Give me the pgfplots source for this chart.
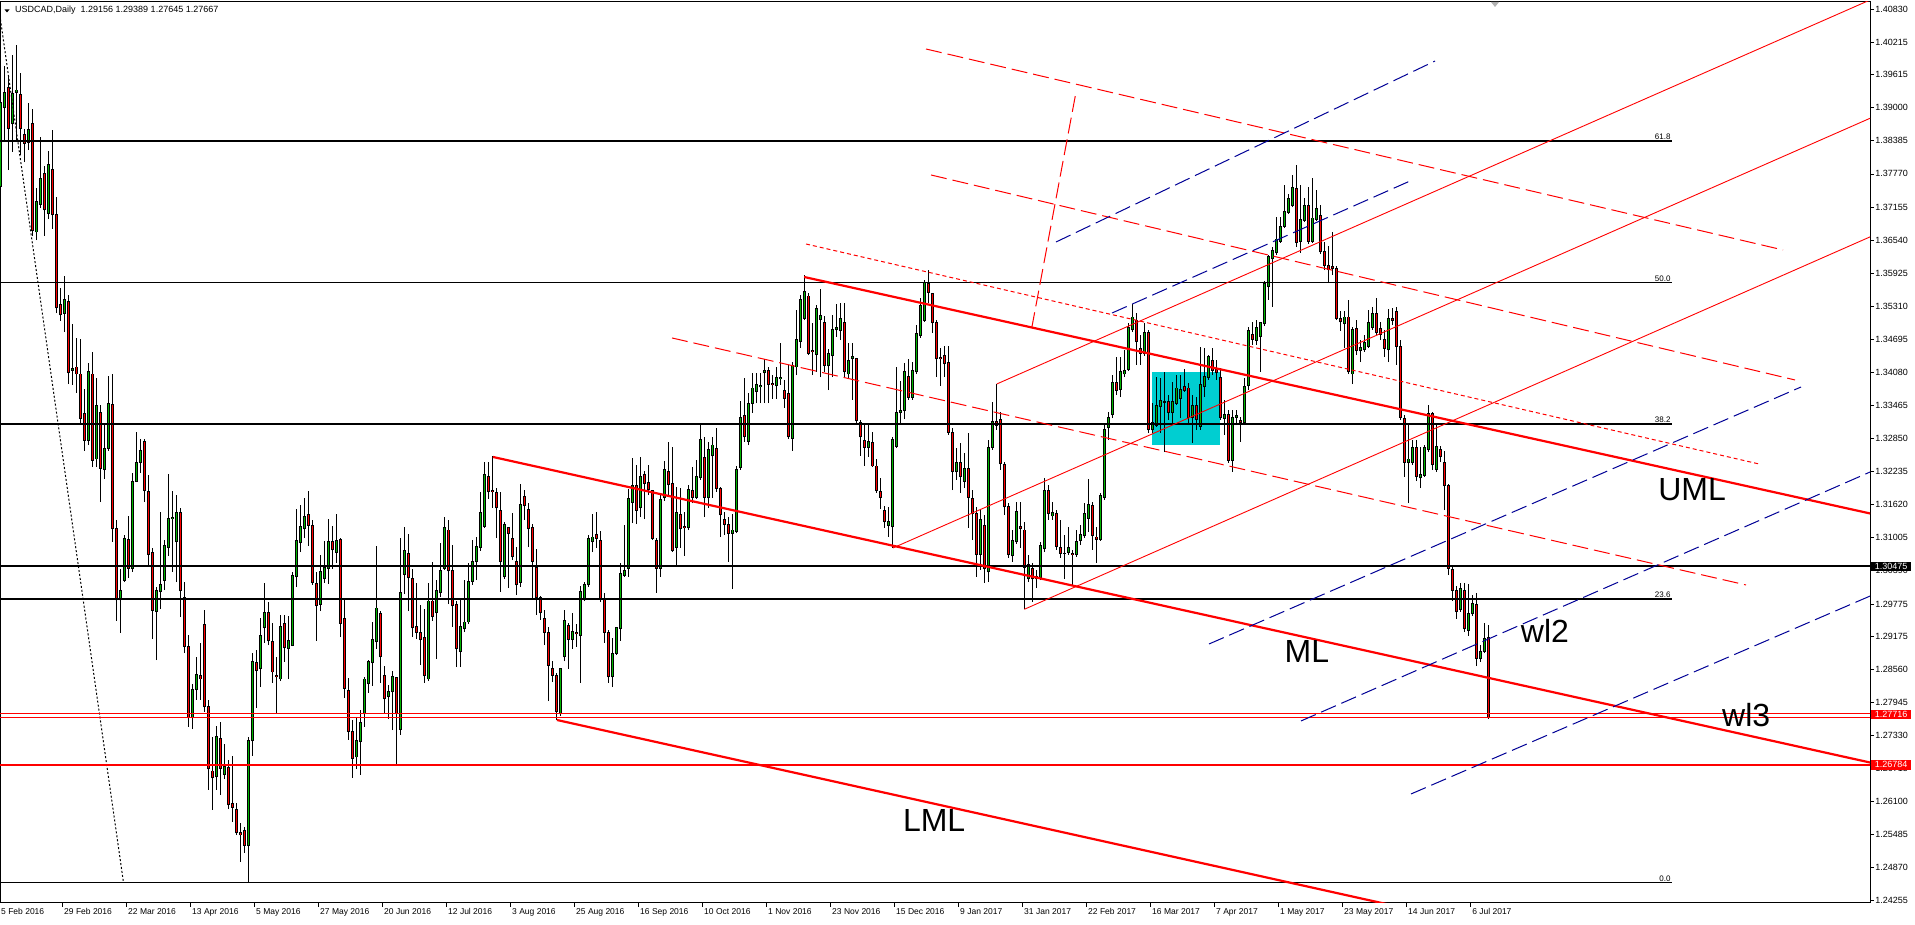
\documentclass[border=0pt]{standalone}
\usepackage{fontspec}
\setmainfont{Liberation Sans}
\usepackage{pgfplots}
\usepackage{pgfplotstable}
\pgfplotsset{compat=1.18}

\definecolor{mtgreen}{RGB}{0,180,0}
\definecolor{mtred}{RGB}{255,0,0}
\definecolor{mtcyan}{RGB}{0,206,209}
\definecolor{mtnavy}{RGB}{0,0,150}

% daily bars, n = bar index from 5 Feb 2016
\pgfplotstableread{
n o h l c
0 1.3753 1.3920 1.3708 1.3909
1 1.3900 1.3978 1.3840 1.3929
2 1.3937 1.3957 1.3784 1.3862
3 1.3870 1.3998 1.3818 1.3926
4 1.3929 1.4017 1.3836 1.3933
5 1.3924 1.3965 1.3812 1.3862
6 1.3851 1.3860 1.3799 1.3834
7 1.3836 1.3909 1.3821 1.3860
8 1.3870 1.3898 1.3662 1.3671
9 1.3669 1.3751 1.3654 1.3725
10 1.3721 1.3846 1.3714 1.3769
11 1.3777 1.3792 1.3662 1.3710
12 1.3704 1.3820 1.3693 1.3795
13 1.3786 1.3859 1.3675 1.3701
14 1.3701 1.3734 1.3518 1.3528
15 1.3535 1.3565 1.3504 1.3515
16 1.3518 1.3587 1.3483 1.3543
17 1.3539 1.3552 1.3386 1.3407
18 1.3412 1.3498 1.3385 1.3416
19 1.3418 1.3472 1.3370 1.3405
20 1.3405 1.3470 1.3314 1.3323
21 1.3331 1.3377 1.3262 1.3282
22 1.3282 1.3425 1.3273 1.3409
23 1.3405 1.3446 1.3232 1.3245
24 1.3247 1.3398 1.3232 1.3347
25 1.3334 1.3347 1.3167 1.3230
26 1.3227 1.3310 1.3210 1.3267
27 1.3267 1.3401 1.3262 1.3351
28 1.3349 1.3405 1.3093 1.3117
29 1.3117 1.3134 1.2946 1.2985
30 1.2985 1.3043 1.2924 1.3003
31 1.3022 1.3106 1.3018 1.3100
32 1.3098 1.3141 1.3026 1.3044
33 1.3044 1.3221 1.3037 1.3206
34 1.3206 1.3297 1.3204 1.3241
35 1.3241 1.3284 1.3221 1.3262
36 1.3279 1.3284 1.3167 1.3188
37 1.3186 1.3217 1.3048 1.3070
38 1.3074 1.3082 1.2912 1.2966
39 1.2963 1.3009 1.2873 1.3002
40 1.3000 1.3148 1.2968 1.3013
41 1.3022 1.3096 1.3003 1.3087
42 1.3082 1.3219 1.3067 1.3137
43 1.3137 1.3188 1.3037 1.3139
44 1.3093 1.3180 1.3018 1.3147
45 1.3148 1.3156 1.2953 1.3002
46 1.2989 1.3018 1.2886 1.2898
47 1.2899 1.2920 1.2749 1.2767
48 1.2766 1.2829 1.2745 1.2818
49 1.2818 1.2879 1.2799 1.2847
50 1.2845 1.2905 1.2799 1.2838
51 1.2940 1.2966 1.2777 1.2786
52 1.2786 1.2799 1.2632 1.2671
53 1.2667 1.2730 1.2595 1.2654
54 1.2656 1.2751 1.2632 1.2732
55 1.2728 1.2758 1.2622 1.2671
56 1.2660 1.2717 1.2652 1.2676
57 1.2674 1.2687 1.2596 1.2604
58 1.2606 1.2695 1.2572 1.2600
59 1.2596 1.2608 1.2548 1.2552
60 1.2552 1.2570 1.2498 1.2548
61 1.2557 1.2563 1.2515 1.2528
62 1.2528 1.2730 1.2459 1.2723
63 1.2723 1.2886 1.2695 1.2871
64 1.2868 1.2892 1.2784 1.2853
65 1.2857 1.2951 1.2823 1.2918
66 1.2933 1.3017 1.2905 1.2961
67 1.2961 1.2981 1.2901 1.2909
68 1.2907 1.2942 1.2831 1.2851
69 1.2845 1.2879 1.2773 1.2842
70 1.2838 1.2957 1.2834 1.2935
71 1.2942 1.2957 1.2870 1.2896
72 1.2894 1.2955 1.2838 1.2909
73 1.2901 1.3037 1.2899 1.3031
74 1.3028 1.3154 1.3009 1.3096
75 1.3091 1.3162 1.3074 1.3122
76 1.3117 1.3175 1.3100 1.3141
77 1.3143 1.3188 1.3085 1.3124
78 1.3124 1.3134 1.3013 1.3017
79 1.3015 1.3037 1.2909 1.2974
80 1.2977 1.3069 1.2964 1.3037
81 1.3024 1.3095 1.3017 1.3046
82 1.3043 1.3135 1.3015 1.3093
83 1.3093 1.3122 1.3043 1.3078
84 1.3074 1.3145 1.3054 1.3095
85 1.3098 1.3100 1.2916 1.2942
86 1.2951 1.2985 1.2803 1.2821
87 1.2816 1.2840 1.2725 1.2740
88 1.2740 1.2762 1.2654 1.2691
89 1.2693 1.2766 1.2671 1.2723
90 1.2721 1.2780 1.2660 1.2758
91 1.2773 1.2842 1.2749 1.2838
92 1.2829 1.2873 1.2812 1.2871
93 1.2868 1.2944 1.2825 1.2912
94 1.2907 1.3085 1.2894 1.2970
95 1.2959 1.2964 1.2831 1.2879
96 1.2844 1.2862 1.2773 1.2801
97 1.2806 1.2827 1.2764 1.2814
98 1.2814 1.2853 1.2743 1.2842
99 1.2840 1.2842 1.2678 1.2773
100 1.2745 1.3100 1.2734 1.2998
101 1.3033 1.3121 1.2996 1.3076
102 1.3072 1.3108 1.2964 1.3026
103 1.3024 1.3043 1.2916 1.2933
104 1.2935 1.3017 1.2912 1.2925
105 1.2925 1.2976 1.2864 1.2911
106 1.2916 1.2968 1.2831 1.2844
107 1.2838 1.3017 1.2834 1.2983
108 1.2983 1.3056 1.2946 1.2955
109 1.2961 1.3022 1.2875 1.3003
110 1.2998 1.3091 1.2990 1.3039
111 1.3044 1.3139 1.3041 1.3119
112 1.3115 1.3134 1.2977 1.3039
113 1.3039 1.3087 1.2935 1.2974
114 1.2977 1.2983 1.2860 1.2894
115 1.2890 1.2989 1.2860 1.2935
116 1.2931 1.3022 1.2925 1.2944
117 1.2944 1.3054 1.2940 1.3020
118 1.3020 1.3096 1.3013 1.3057
119 1.3056 1.3102 1.3022 1.3085
120 1.3083 1.3186 1.3076 1.3147
121 1.3122 1.3241 1.3119 1.3219
122 1.3215 1.3241 1.3173 1.3186
123 1.3188 1.3253 1.3156 1.3186
124 1.3184 1.3193 1.3100 1.3156
125 1.3152 1.3186 1.3000 1.3056
126 1.3028 1.3130 1.3024 1.3126
127 1.3119 1.3121 1.3007 1.3108
128 1.3100 1.3147 1.3059 1.3065
129 1.3057 1.3083 1.2994 1.3013
130 1.3017 1.3201 1.3009 1.3163
131 1.3178 1.3189 1.3134 1.3160
132 1.3154 1.3165 1.3083 1.3117
133 1.3119 1.3126 1.2989 1.3057
134 1.3046 1.3080 1.2957 1.2990
135 1.2989 1.2992 1.2948 1.2961
136 1.2951 1.2966 1.2901 1.2924
137 1.2925 1.2935 1.2797 1.2864
138 1.2857 1.2871 1.2832 1.2845
139 1.2845 1.2849 1.2762 1.2777
140 1.2773 1.2858 1.2769 1.2857
141 1.2879 1.2966 1.2871 1.2946
142 1.2937 1.2942 1.2857 1.2912
143 1.2912 1.2961 1.2894 1.2927
144 1.2925 1.2940 1.2898 1.2922
145 1.2918 1.3011 1.2831 1.3000
146 1.2987 1.3018 1.2983 1.3013
147 1.3013 1.3106 1.3009 1.3100
148 1.3093 1.3145 1.3074 1.3102
149 1.3106 1.3148 1.3082 1.3100
150 1.3096 1.3113 1.2981 1.2987
151 1.2987 1.2998 1.2905 1.2924
152 1.2925 1.2929 1.2831 1.2842
153 1.2842 1.2914 1.2823 1.2886
154 1.2886 1.2935 1.2883 1.2933
155 1.2931 1.3054 1.2909 1.3035
156 1.3030 1.3124 1.3028 1.3039
157 1.3044 1.3191 1.3028 1.3173
158 1.3167 1.3249 1.3128 1.3197
159 1.3197 1.3236 1.3126 1.3152
160 1.3156 1.3251 1.3139 1.3215
161 1.3219 1.3225 1.3135 1.3201
162 1.3204 1.3236 1.3180 1.3191
163 1.3188 1.3189 1.3096 1.3100
164 1.3095 1.3100 1.2998 1.3044
165 1.3044 1.3182 1.3028 1.3171
166 1.3176 1.3243 1.3169 1.3228
167 1.3223 1.3279 1.3176 1.3199
168 1.3201 1.3269 1.3074 1.3076
169 1.3083 1.3195 1.3050 1.3147
170 1.3143 1.3193 1.3082 1.3117
171 1.3122 1.3148 1.3067 1.3119
172 1.3119 1.3199 1.3115 1.3191
173 1.3188 1.3232 1.3165 1.3175
174 1.3176 1.3245 1.3173 1.3215
175 1.3212 1.3314 1.3208 1.3284
176 1.3249 1.3288 1.3139 1.3175
177 1.3175 1.3279 1.3156 1.3264
178 1.3253 1.3288 1.3175 1.3273
179 1.3267 1.3305 1.3186 1.3193
180 1.3193 1.3195 1.3102 1.3143
181 1.3135 1.3148 1.3106 1.3126
182 1.3126 1.3139 1.3056 1.3109
183 1.3109 1.3145 1.3005 1.3115
184 1.3113 1.3234 1.3109 1.3228
185 1.3232 1.3355 1.3227 1.3325
186 1.3327 1.3398 1.3279 1.3288
187 1.3280 1.3370 1.3273 1.3351
188 1.3351 1.3407 1.3333 1.3379
189 1.3372 1.3407 1.3351 1.3385
190 1.3381 1.3407 1.3351 1.3383
191 1.3407 1.3433 1.3351 1.3412
192 1.3412 1.3418 1.3351 1.3386
193 1.3388 1.3403 1.3359 1.3385
194 1.3383 1.3418 1.3359 1.3398
195 1.3396 1.3463 1.3385 1.3399
196 1.3375 1.3394 1.3342 1.3359
197 1.3368 1.3422 1.3284 1.3288
198 1.3286 1.3427 1.3262 1.3420
199 1.3418 1.3524 1.3403 1.3470
200 1.3466 1.3552 1.3453 1.3544
201 1.3509 1.3589 1.3505 1.3559
202 1.3550 1.3556 1.3440 1.3444
203 1.3448 1.3500 1.3403 1.3446
204 1.3442 1.3533 1.3409 1.3526
205 1.3507 1.3563 1.3399 1.3513
206 1.3500 1.3513 1.3409 1.3420
207 1.3420 1.3452 1.3375 1.3444
208 1.3439 1.3515 1.3399 1.3487
209 1.3487 1.3535 1.3474 1.3491
210 1.3485 1.3537 1.3468 1.3509
211 1.3500 1.3537 1.3399 1.3409
212 1.3405 1.3463 1.3396 1.3431
213 1.3433 1.3463 1.3357 1.3437
214 1.3433 1.3435 1.3310 1.3318
215 1.3314 1.3320 1.3253 1.3288
216 1.3282 1.3314 1.3234 1.3269
217 1.3269 1.3314 1.3251 1.3279
218 1.3277 1.3297 1.3232 1.3234
219 1.3234 1.3247 1.3184 1.3188
220 1.3186 1.3212 1.3154 1.3176
221 1.3152 1.3160 1.3119 1.3130
222 1.3124 1.3158 1.3102 1.3130
223 1.3121 1.3288 1.3082 1.3284
224 1.3271 1.3418 1.3267 1.3333
225 1.3333 1.3392 1.3314 1.3338
226 1.3338 1.3425 1.3321 1.3409
227 1.3401 1.3433 1.3357 1.3362
228 1.3362 1.3427 1.3357 1.3412
229 1.3409 1.3496 1.3405 1.3481
230 1.3476 1.3546 1.3472 1.3533
231 1.3505 1.3580 1.3502 1.3576
232 1.3574 1.3598 1.3537 1.3557
233 1.3554 1.3556 1.3481 1.3500
234 1.3500 1.3505 1.3399 1.3433
235 1.3435 1.3453 1.3383 1.3433
236 1.3440 1.3457 1.3399 1.3424
237 1.3427 1.3457 1.3292 1.3297
238 1.3297 1.3305 1.3189 1.3223
239 1.3223 1.3267 1.3208 1.3240
240 1.3240 1.3277 1.3184 1.3214
241 1.3206 1.3258 1.3193 1.3230
242 1.3230 1.3295 1.3119 1.3176
243 1.3173 1.3189 1.3096 1.3145
244 1.3145 1.3158 1.3028 1.3069
245 1.3069 1.3152 1.3041 1.3134
246 1.3124 1.3143 1.3017 1.3044
247 1.3037 1.3282 1.3018 1.3269
248 1.3269 1.3353 1.3264 1.3316
249 1.3316 1.3386 1.3301 1.3310
250 1.3321 1.3334 1.3227 1.3238
251 1.3236 1.3241 1.3143 1.3158
252 1.3158 1.3165 1.3063 1.3070
253 1.3067 1.3115 1.3056 1.3096
254 1.3093 1.3167 1.3089 1.3150
255 1.3122 1.3167 1.3082 1.3117
256 1.3115 1.3130 1.2968 1.3046
257 1.3024 1.3069 1.3018 1.3050
258 1.3043 1.3054 1.2981 1.3024
259 1.3028 1.3041 1.3007 1.3024
260 1.3026 1.3093 1.3022 1.3087
261 1.3080 1.3212 1.3074 1.3188
262 1.3188 1.3199 1.3134 1.3145
263 1.3141 1.3167 1.3134 1.3148
264 1.3145 1.3152 1.3078 1.3085
265 1.3083 1.3134 1.3063 1.3072
266 1.3072 1.3106 1.3024 1.3072
267 1.3074 1.3121 1.3069 1.3082
268 1.3072 1.3078 1.3013 1.3070
269 1.3069 1.3115 1.3065 1.3093
270 1.3095 1.3124 1.3087 1.3106
271 1.3104 1.3165 1.3100 1.3145
272 1.3137 1.3210 1.3111 1.3163
273 1.3160 1.3167 1.3078 1.3104
274 1.3102 1.3121 1.3054 1.3098
275 1.3098 1.3184 1.3095 1.3180
276 1.3175 1.3310 1.3171 1.3301
277 1.3305 1.3334 1.3282 1.3325
278 1.3329 1.3403 1.3323 1.3390
279 1.3390 1.3437 1.3366 1.3375
280 1.3377 1.3437 1.3362 1.3409
281 1.3405 1.3450 1.3399 1.3412
282 1.3414 1.3500 1.3411 1.3492
283 1.3487 1.3535 1.3483 1.3511
284 1.3505 1.3518 1.3422 1.3465
285 1.3453 1.3478 1.3422 1.3444
286 1.3444 1.3500 1.3439 1.3483
287 1.3483 1.3487 1.3295 1.3301
288 1.3301 1.3351 1.3295 1.3314
289 1.3310 1.3399 1.3307 1.3346
290 1.3344 1.3398 1.3295 1.3355
291 1.3353 1.3409 1.3260 1.3352
292 1.3353 1.3366 1.3320 1.3333
293 1.3333 1.3390 1.3310 1.3353
294 1.3351 1.3403 1.3347 1.3379
295 1.3360 1.3403 1.3323 1.3377
296 1.3381 1.3414 1.3372 1.3375
297 1.3379 1.3388 1.3310 1.3325
298 1.3325 1.3366 1.3277 1.3347
299 1.3346 1.3362 1.3301 1.3320
300 1.3307 1.3455 1.3301 1.3385
301 1.3381 1.3453 1.3362 1.3401
302 1.3399 1.3440 1.3394 1.3437
303 1.3431 1.3453 1.3403 1.3412
304 1.3414 1.3431 1.3394 1.3407
305 1.3398 1.3416 1.3320 1.3325
306 1.3323 1.3357 1.3292 1.3329
307 1.3329 1.3338 1.3240 1.3245
308 1.3245 1.3338 1.3223 1.3325
309 1.3325 1.3338 1.3310 1.3327
310 1.3318 1.3325 1.3279 1.3314
311 1.3314 1.3398 1.3310 1.3381
312 1.3383 1.3492 1.3375 1.3485
313 1.3479 1.3502 1.3459 1.3470
314 1.3468 1.3505 1.3459 1.3492
315 1.3474 1.3502 1.3409 1.3500
316 1.3498 1.3578 1.3494 1.3574
317 1.3567 1.3626 1.3543 1.3623
318 1.3619 1.3641 1.3530 1.3634
319 1.3630 1.3697 1.3626 1.3656
320 1.3652 1.3697 1.3649 1.3680
321 1.3680 1.3756 1.3676 1.3708
322 1.3706 1.3740 1.3702 1.3732
323 1.3719 1.3775 1.3715 1.3751
324 1.3749 1.3794 1.3641 1.3650
325 1.3652 1.3756 1.3630 1.3693
326 1.3691 1.3732 1.3688 1.3719
327 1.3719 1.3753 1.3647 1.3652
328 1.3652 1.3769 1.3649 1.3695
329 1.3693 1.3747 1.3689 1.3712
330 1.3699 1.3719 1.3628 1.3632
331 1.3632 1.3650 1.3598 1.3606
332 1.3606 1.3643 1.3574 1.3600
333 1.3604 1.3669 1.3589 1.3602
334 1.3602 1.3606 1.3505 1.3509
335 1.3509 1.3522 1.3485 1.3502
336 1.3498 1.3522 1.3453 1.3511
337 1.3511 1.3543 1.3405 1.3409
338 1.3405 1.3492 1.3386 1.3487
339 1.3489 1.3505 1.3440 1.3448
340 1.3448 1.3468 1.3427 1.3455
341 1.3450 1.3478 1.3446 1.3463
342 1.3457 1.3524 1.3453 1.3500
343 1.3492 1.3530 1.3487 1.3517
344 1.3517 1.3546 1.3478 1.3483
345 1.3489 1.3502 1.3468 1.3479
346 1.3470 1.3487 1.3437 1.3453
347 1.3450 1.3526 1.3427 1.3509
348 1.3509 1.3528 1.3496 1.3505
349 1.3522 1.3530 1.3422 1.3457
350 1.3457 1.3468 1.3320 1.3325
351 1.3323 1.3329 1.3214 1.3241
352 1.3240 1.3310 1.3165 1.3247
353 1.3240 1.3282 1.3236 1.3269
354 1.3269 1.3282 1.3206 1.3214
355 1.3212 1.3269 1.3193 1.3219
356 1.3217 1.3273 1.3214 1.3269
357 1.3264 1.3347 1.3260 1.3331
358 1.3331 1.3334 1.3227 1.3236
359 1.3227 1.3310 1.3223 1.3271
360 1.3264 1.3271 1.3241 1.3251
361 1.3240 1.3262 1.3152 1.3197
362 1.3197 1.3201 1.3031 1.3044
363 1.3041 1.3050 1.2983 1.3003
364 1.3003 1.3011 1.2950 1.2963
365 1.2968 1.3017 1.2963 1.3007
366 1.3003 1.3017 1.2925 1.2931
367 1.2929 1.3015 1.2918 1.2959
368 1.2959 1.2994 1.2955 1.2979
369 1.2976 1.2998 1.2862 1.2877
370 1.2877 1.2901 1.2870 1.2890
371 1.2890 1.2942 1.2886 1.2914
372 1.29156 1.29389 1.27645 1.27667
}\candles

\pgfplotsset{
  mtdash/.style={line width=1pt, dash pattern=on 16pt off 6pt},
}

\begin{document}
\begin{tikzpicture}
\fill[white] (0,0) rectangle (1915pt,925pt);
\path[use as bounding box] (0,0) rectangle (1915pt,925pt);
\begin{axis}[
  at={(0pt,22pt)}, anchor=south west,
  scale only axis, width=1870pt, height=901pt,
  xmin=-0.125, xmax=467.375, ymin=1.24216, ymax=1.40966,
  axis line style={line width=1pt, black},
  tick align=outside, major tick length=4pt,
  tick style={black, line width=0.8pt},
  ytick pos=right, yticklabel pos=right, xtick pos=bottom,
  scaled y ticks=false,
  ytick={1.40830,1.40215,1.39615,1.39000,1.38385,1.37770,1.37155,1.36540,1.35925,1.35310,1.34695,1.34080,1.33465,1.32850,1.32235,1.31620,1.31005,1.30390,1.29775,1.29175,1.28560,1.27945,1.27330,1.26715,1.26100,1.25485,1.24870,1.24255},
  yticklabels={1.40830,1.40215,1.39615,1.39000,1.38385,1.37770,1.37155,1.36540,1.35925,1.35310,1.34695,1.34080,1.33465,1.32850,1.32235,1.31620,1.31005,1.30390,1.29775,1.29175,1.28560,1.27945,1.27330,1.26715,1.26100,1.25485,1.24870,1.24255},
  xtick={15.5,31.5,47.5,63.5,79.5,95.5,111.5,127.5,143.5,159.5,175.5,191.5,207.5,223.5,239.5,255.5,271.5,287.5,303.5,319.5,335.5,351.5,367.5},
  xticklabels={29 Feb 2016,22 Mar 2016,13 Apr 2016,5 May 2016,27 May 2016,20 Jun 2016,12 Jul 2016,3 Aug 2016,25 Aug 2016,16 Sep 2016,10 Oct 2016,1 Nov 2016,23 Nov 2016,15 Dec 2016,9 Jan 2017,31 Jan 2017,22 Feb 2017,16 Mar 2017,7 Apr 2017,1 May 2017,23 May 2017,14 Jun 2017,6 Jul 2017},
  yticklabel style={font=\fontsize{9}{10}\selectfont, anchor=west, inner sep=0pt, xshift=1pt},
  xticklabel style={font=\fontsize{8.5}{9}\selectfont, anchor=north west, inner sep=0pt, xshift=1.5pt, yshift=-1pt},
]
% box behind the bars
\addplot[fill=mtcyan, draw=none, forget plot] coordinates {(287.8,1.32731) (304.9,1.32731) (304.9,1.34093) (287.8,1.34093)} -- cycle;

% wicks
\addplot[black, line width=1pt, forget plot, quiver={u=0, v={\thisrow{h}-\thisrow{l}}}]
  table[x=n, y=l] {\candles};
% bodies: black outline, then colour
\addplot[black, line width=3pt, forget plot, quiver={u=0, v={abs(\thisrow{c}-\thisrow{o})+0.00018}}]
  table[x=n, y expr={min(\thisrow{o},\thisrow{c})-0.00009}] {\candles};
\addplot[mtgreen, line width=1.2pt, forget plot, quiver={u=0, v={(\thisrow{c}>=\thisrow{o})*max(abs(\thisrow{c}-\thisrow{o})-0.00018,0)}}]
  table[x=n, y expr={min(\thisrow{o},\thisrow{c})+0.00009}] {\candles};
\addplot[mtred, line width=1.2pt, forget plot, quiver={u=0, v={(\thisrow{c}<\thisrow{o})*max(abs(\thisrow{c}-\thisrow{o})-0.00018,0)}}]
  table[x=n, y expr={min(\thisrow{o},\thisrow{c})+0.00009}] {\candles};

% fibonacci levels
\addplot[black, line width=1.5pt] coordinates {(-0.2,1.38381) (417.9,1.38381)};
\addplot[black, line width=1.5pt] coordinates {(-0.2,1.35750) (417.9,1.35750)};
\addplot[black, line width=1.5pt] coordinates {(-0.2,1.33119) (417.9,1.33119)};
\addplot[black, line width=1.5pt] coordinates {(-0.2,1.29863) (417.9,1.29863)};
\addplot[black, line width=1.5pt] coordinates {(-0.2,1.24600) (417.9,1.24600)};
\addplot[black, line width=1pt, dash pattern=on 2pt off 2pt] coordinates {(-12,1.46897) (30.75,1.24595)};

% horizontal levels
\addplot[black, line width=1.8pt] coordinates {(-0.2,1.30475) (467.5,1.30475)};
\addplot[mtred, line width=0.7pt] coordinates {(-0.2,1.27735) (467.5,1.27735)};
\addplot[mtred, line width=0.7pt] coordinates {(-0.2,1.27667) (467.5,1.27667)};
\addplot[mtred, line width=2pt] coordinates {(-0.2,1.26784) (467.5,1.26784)};

% descending channel
\addplot[mtred, line width=2.2pt] coordinates {(200.9,1.35854) (467.4,1.31457)};
\addplot[mtred, line width=2.2pt] coordinates {(123.1,1.32508) (467.4,1.26827)};
\addplot[mtred, line width=2.2pt] coordinates {(139.1,1.27618) (467.4,1.22201)};

% rising fork, thin red
\addplot[mtred, line width=0.9pt] coordinates {(249.05,1.33864) (467.4,1.41004)};
\addplot[mtred, line width=0.9pt] coordinates {(223.1,1.30816) (467.4,1.38805)};
\addplot[mtred, line width=0.9pt] coordinates {(255.95,1.29676) (467.4,1.36600)};

% dashed red lines
\addplot[mtred, mtdash] coordinates {(231.375,1.40092) (445.625,1.36356)};
\addplot[mtred, mtdash] coordinates {(232.625,1.37750) (448.625,1.33939)};
\addplot[mtred, mtdash] coordinates {(167.875,1.34720) (436.375,1.30128)};
\addplot[mtred, mtdash] coordinates {(257.8,1.34905) (268.875,1.39293)};
\addplot[mtred, line width=1pt, dash pattern=on 4pt off 3pt] coordinates {(201.375,1.36467) (439.625,1.32377)};

% dashed blue lines
\addplot[mtnavy, mtdash] coordinates {(263.875,1.36504) (358.625,1.39869)};
\addplot[mtnavy, mtdash] coordinates {(277.875,1.35184) (352.375,1.37638)};
\addplot[mtnavy, mtdash] coordinates {(302.125,1.29031) (450.125,1.33809)};
\addplot[mtnavy, mtdash] coordinates {(325.125,1.27600) (467.4,1.32229)};
\addplot[mtnavy, mtdash] coordinates {(352.625,1.26243) (467.4,1.29923)};

\coordinate (pA) at (axis cs:467.375,1.30475);
\coordinate (pB) at (axis cs:467.375,1.27716);
\coordinate (pC) at (axis cs:467.375,1.26784);
\coordinate (f1) at (axis cs:417.8,1.38381);
\coordinate (f2) at (axis cs:417.8,1.35750);
\coordinate (f3) at (axis cs:417.8,1.33119);
\coordinate (f4) at (axis cs:417.8,1.29863);
\coordinate (f5) at (axis cs:417.8,1.24600);
\coordinate (tU) at (axis cs:422.9,1.31894);
\coordinate (tM) at (axis cs:326.6,1.28883);
\coordinate (tL) at (axis cs:233.4,1.25759);
\coordinate (tW2) at (axis cs:386.1,1.29273);
\coordinate (tW3) at (axis cs:436.4,1.27711);
\coordinate (d0) at (axis cs:-0.125,1.24216);
\end{axis}
\foreach \p/\t in {f1/61.8,f2/50.0,f3/38.2,f4/23.6,f5/0.0}
  \node[font=\fontsize{8}{9}\selectfont, anchor=south east, inner sep=1pt] at (\p) {\t};
\foreach \p/\t in {tU/UML,tM/ML,tL/LML,tW2/wl2,tW3/wl3}
  \node[font=\fontsize{32}{34}\selectfont] at (\p) {\t};
\node[font=\fontsize{8.5}{9}\selectfont, anchor=north west, inner sep=0pt, yshift=-5pt, xshift=1pt] at (d0) {5 Feb 2016};
\node[fill=black, text=white, anchor=west, inner xsep=4pt, inner ysep=1.5pt, font=\fontsize{9}{10}\selectfont] at ([xshift=0.5pt]pA) {1.30475};
\node[fill=mtred, text=white, anchor=west, inner xsep=4pt, inner ysep=1.5pt, font=\fontsize{9}{10}\selectfont] at ([xshift=0.5pt]pB) {1.27716};
\node[fill=mtred, text=white, anchor=west, inner xsep=4pt, inner ysep=1.5pt, font=\fontsize{9}{10}\selectfont] at ([xshift=0.5pt]pC) {1.26784};
% chart header
\fill[black] (4.5pt,915.5pt) -- (9.5pt,915.5pt) -- (7pt,912.5pt) -- cycle;
\node[anchor=west, inner sep=0pt, font=\fontsize{9}{10}\selectfont] at (15pt,915pt) {USDCAD,Daily\ \ 1.29156 1.29389 1.27645 1.27667};
\fill[gray!60] (1491pt,923pt) -- (1499pt,923pt) -- (1495pt,918pt) -- cycle;
\end{tikzpicture}
\end{document}
